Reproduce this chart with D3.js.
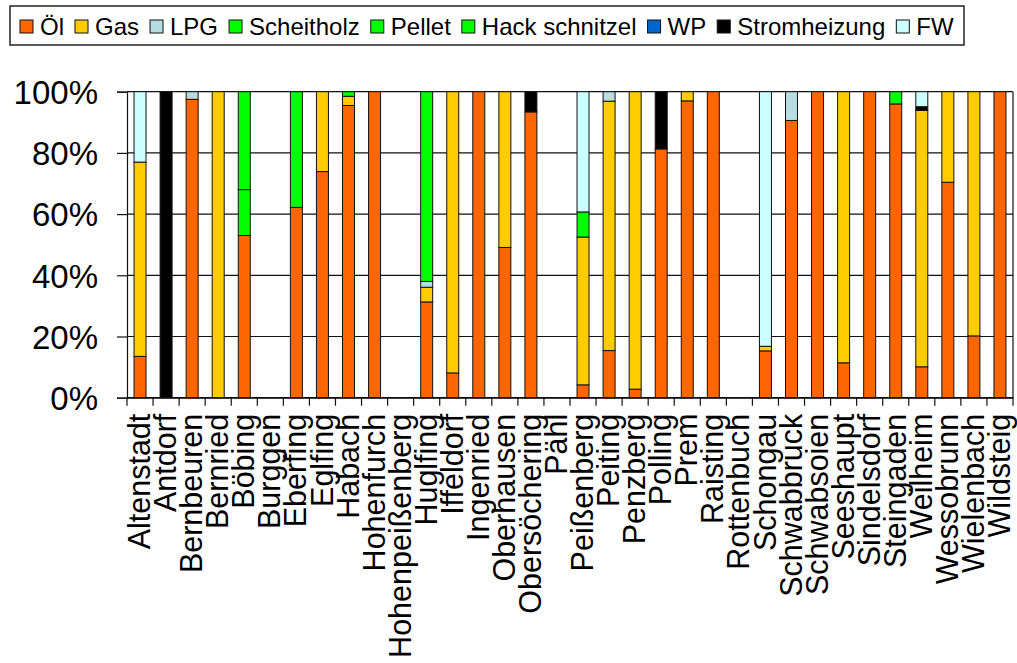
<!DOCTYPE html>
<html>
<head>
<meta charset="utf-8">
<script src="https://cdn.jsdelivr.net/npm/d3@7"></script>
<style>
  body { margin: 0; background: #fff; }
  svg text { font-family: "Liberation Sans", Arial, sans-serif; fill: #000; }
</style>
</head>
<body>
<svg id="chart" width="1017" height="663"></svg>
<script>
// Anteile der Heizungsarten je Gemeinde (in %)
const categories = ["Altenstadt", "Antdorf", "Bernbeuren", "Bernried", "Böbing", "Burggen", "Eberfing",
  "Eglfing", "Habach", "Hohenfurch", "Hohenpeißenberg", "Huglfing", "Iffeldorf", "Ingenried",
  "Oberhausen", "Obersöchering", "Pähl", "Peißenberg", "Peiting", "Penzberg", "Polling", "Prem",
  "Raisting", "Rottenbuch", "Schongau", "Schwabbruck", "Schwabsoien", "Seeshaupt", "Sindelsdorf",
  "Steingaden", "Weilheim", "Wessobrunn", "Wielenbach", "Wildsteig"];

const oel        = [13.5, 0, 97.5, 0, 53, 0, 62.2, 73.9, 95.5, 100, 0, 31.3, 8.1, 100, 49.1, 93.4, 0, 4.2, 15.4, 2.8, 81.3, 97, 100, 0, 15.3, 90.6, 100, 11.4, 100, 96, 10.1, 70.4, 20.2, 100];
const gas        = [63.5, 0, 0, 100, 0, 0, 0, 26.1, 3, 0, 0, 4.8, 91.9, 0, 50.9, 0, 0, 48.3, 81.5, 97.2, 0, 3, 0, 0, 1.5, 0, 0, 88.6, 0, 0, 83.8, 29.6, 79.8, 0];
const lpg        = [0, 0, 2.5, 0, 0, 0, 0, 0, 0, 0, 0, 1.9, 0, 0, 0, 0, 0, 0, 3.1, 0, 0, 0, 0, 0, 0, 9.4, 0, 0, 0, 0, 0, 0, 0, 0];
const scheitholz = [0, 0, 0, 0, 15, 0, 37.8, 0, 1.5, 0, 0, 62, 0, 0, 0, 0, 0, 8.2, 0, 0, 0, 0, 0, 0, 0, 0, 0, 0, 0, 4, 0, 0, 0, 0];
const pellet     = [0, 0, 0, 0, 32, 0, 0, 0, 0, 0, 0, 0, 0, 0, 0, 0, 0, 0, 0, 0, 0, 0, 0, 0, 0, 0, 0, 0, 0, 0, 0, 0, 0, 0];
const hack       = [0, 0, 0, 0, 0, 0, 0, 0, 0, 0, 0, 0, 0, 0, 0, 0, 0, 0, 0, 0, 0, 0, 0, 0, 0, 0, 0, 0, 0, 0, 0, 0, 0, 0];
const wp         = [0, 0, 0, 0, 0, 0, 0, 0, 0, 0, 0, 0, 0, 0, 0, 0, 0, 0, 0, 0, 0, 0, 0, 0, 0, 0, 0, 0, 0, 0, 0, 0, 0, 0];
const strom      = [0, 100, 0, 0, 0, 0, 0, 0, 0, 0, 0, 0, 0, 0, 0, 6.6, 0, 0, 0, 0, 18.7, 0, 0, 0, 0, 0, 0, 0, 0, 0, 1.2, 0, 0, 0];
const fw         = [23, 0, 0, 0, 0, 0, 0, 0, 0, 0, 0, 0, 0, 0, 0, 0, 0, 39.3, 0, 0, 0, 0, 0, 0, 83.2, 0, 0, 0, 0, 0, 4.9, 0, 0, 0];

const seriesNames = ["Öl", "Gas", "LPG", "Scheitholz", "Pellet", "Hack schnitzel", "WP", "Stromheizung", "FW"];
const seriesValues = [oel, gas, lpg, scheitholz, pellet, hack, wp, strom, fw];
const seriesColors = ["#ff6600", "#ffcc00", "#b7dde3", "#00ff00", "#00ff00", "#00ff00", "#0066cc", "#000000", "#ccffff"];
const yTicks = [0, 20, 40, 60, 80, 100];

const svg = d3.select("#chart");
const plot = {left: 127, right: 1013, top: 91.7, bottom: 397.7};

const rows = categories.map((c, i) => {
  const row = {name: c};
  seriesNames.forEach((s, j) => row[s] = seriesValues[j][i]);
  return row;
});

const stack = d3.stack().keys(seriesNames)(rows);

const x = d3.scaleBand()
  .domain(categories)
  .range([plot.left, plot.right])
  .paddingInner(0.54)
  .paddingOuter(0.27);

const y = d3.scaleLinear()
  .domain([0, 100])
  .range([plot.bottom, plot.top]);

const color = d3.scaleOrdinal().domain(seriesNames).range(seriesColors);

// Gitternetz
svg.append("g")
  .selectAll("line")
  .data(yTicks)
  .join("line")
  .attr("x1", plot.left)
  .attr("x2", plot.right)
  .attr("y1", d => y(d))
  .attr("y2", d => y(d))
  .attr("stroke", "#111")
  .attr("stroke-width", 1.2);

svg.append("line")
  .attr("x1", plot.right).attr("x2", plot.right)
  .attr("y1", plot.top).attr("y2", plot.bottom)
  .attr("stroke", "#111")
  .attr("stroke-width", 1.2);

// Balken
svg.append("g")
  .selectAll("g")
  .data(stack)
  .join("g")
  .attr("fill", d => color(d.key))
  .selectAll("rect")
  .data(d => d.filter(p => p[1] - p[0] > 0))
  .join("rect")
  .attr("x", d => x(d.data.name))
  .attr("width", x.bandwidth())
  .attr("y", d => y(d[1]))
  .attr("height", d => y(d[0]) - y(d[1]))
  .attr("stroke", "#111")
  .attr("stroke-width", 1);

// y-Achse
const yAxis = svg.append("g")
  .attr("transform", `translate(${plot.left},0)`)
  .call(d3.axisLeft(y).tickValues(yTicks).tickFormat(d => d + "%").tickSize(10).tickPadding(19));
yAxis.select(".domain").attr("stroke", "#111").attr("stroke-width", 1.2);
yAxis.selectAll(".tick line").attr("stroke", "#111").attr("stroke-width", 1.2);
yAxis.selectAll("text").attr("font-size", 33).attr("dy", "0.36em");

// x-Achse
const xAxis = svg.append("g")
  .attr("transform", `translate(0,${plot.bottom})`)
  .call(d3.axisBottom(x).tickSize(0).tickSizeOuter(0));
xAxis.select(".domain").attr("stroke", "#111").attr("stroke-width", 1.2);
xAxis.selectAll("text")
  .attr("font-size", 30.5)
  .attr("text-anchor", "end")
  .attr("transform", "rotate(-90)")
  .attr("x", -16)
  .attr("y", 0)
  .attr("dy", "0.33em");

const half = (x.step() - x.bandwidth()) / 2;
const bounds = categories.map(c => x(c) - half).concat([plot.right]);
xAxis.append("g")
  .selectAll("line")
  .data(bounds)
  .join("line")
  .attr("x1", d => d).attr("x2", d => d)
  .attr("y1", 0).attr("y2", 8)
  .attr("stroke", "#111")
  .attr("stroke-width", 1.2);

// Legende
const legend = svg.append("g");
legend.append("rect")
  .attr("x", 10).attr("y", 6)
  .attr("width", 954).attr("height", 39)
  .attr("fill", "#fff")
  .attr("stroke", "#222")
  .attr("stroke-width", 1.5);

let lx = 20;
seriesNames.forEach(name => {
  const item = legend.append("g").attr("transform", `translate(${lx},0)`);
  item.append("rect")
    .attr("x", 0).attr("y", 20)
    .attr("width", 13).attr("height", 13)
    .attr("fill", color(name))
    .attr("stroke", "#111")
    .attr("stroke-width", 1);
  const t = item.append("text")
    .attr("x", 20).attr("y", 35)
    .attr("font-size", 24)
    .text(name);
  lx += 20 + t.node().getComputedTextLength() + 11;
});
</script>
</body>
</html>
